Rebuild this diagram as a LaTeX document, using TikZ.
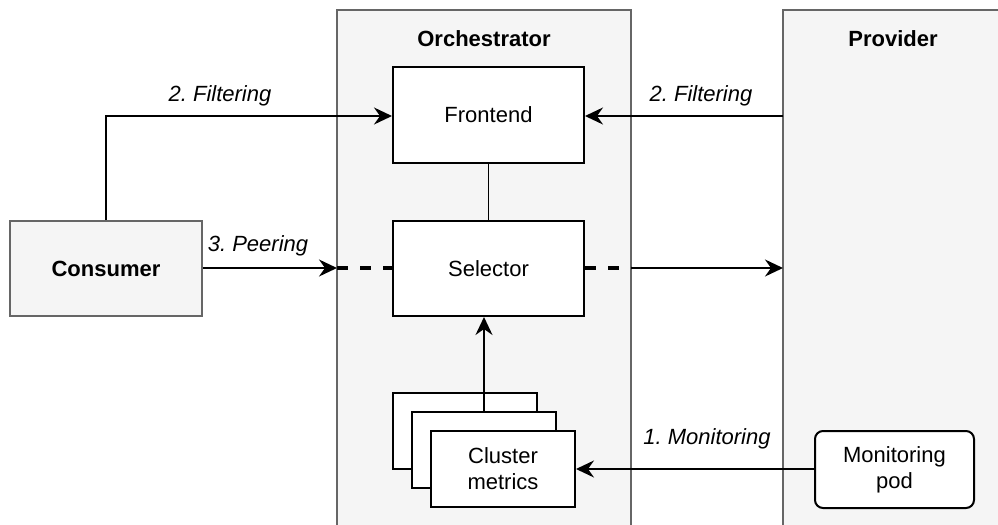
\documentclass[tikz,border=0pt]{standalone}
\usepackage{fontspec}
\setmainfont{Liberation Sans}
\usetikzlibrary{arrows.meta}
\definecolor{panelfill}{HTML}{F5F5F5}
\definecolor{panelline}{HTML}{666666}
\tikzset{
  base/.style={font=\fontsize{11}{13}\selectfont, align=center, inner sep=0pt},
  panel/.style={fill=panelfill, draw=panelline, line width=1pt},
  block/.style={base, draw=black, fill=white, line width=1pt},
  ghost/.style={base, draw=panelline, fill=panelfill, line width=1pt},
  title/.style={base, font=\fontsize{11}{13}\selectfont\bfseries},
  flowlabel/.style={base, font=\fontsize{11}{13}\selectfont\itshape},
  link/.style={line width=0.9pt, draw=black},
  arrowlink/.style={link, -{Stealth[length=9pt,width=8.5pt,inset=3pt]}},
  dashlink/.style={draw=black, line width=2pt, dash pattern=on 5.5pt off 6pt},
}
\begin{document}
\frenchspacing
\begin{tikzpicture}[x=0.5pt, y=-0.5pt]
  \useasboundingbox (0,0) rectangle (998,525);
  \fill[white] (0,0) rectangle (998,525);
  \clip (0,0) rectangle (998,525);

  % containers (they run past the lower edge)
  \fill[panelfill] (337,10) rectangle (631,540);
  \draw[panelline, line width=1pt] (337,540) -- (337,10) -- (631,10) -- (631,540);
  \fill[panelfill] (783,10) rectangle (1010,540);
  \draw[panelline, line width=1pt] (783,540) -- (783,10) -- (1010,10);
  \node[title] (orchtitle) at (484,39) {Orchestrator};
  \node[title] (provtitle) at (893,39) {Provider};

  % boxes
  \node[ghost, title, minimum width=96pt, minimum height=47.5pt] (consumer) at (106,268.5) {Consumer};
  \node[block, minimum width=95.5pt, minimum height=48pt] (frontend) at (488.5,115) {Frontend};
  \node[block, minimum width=95.5pt, minimum height=47.5pt] (selector) at (488.5,268.5) {Selector};
  \node[block, minimum width=72pt, minimum height=38pt] (metricsA) at (465,431) {};
  \node[block, minimum width=72pt, minimum height=38pt] (metricsB) at (484,450) {};
  \node[block, minimum width=72pt, minimum height=38pt] (metricsC) at (503,469) {Cluster\\metrics};
  \node[block, rounded corners=4pt, minimum width=79.5pt, minimum height=38.5pt] (pod) at (894.5,469.5) {Monitoring\\pod};

  % anchor points on the container edges
  \coordinate (orchin) at (337,268);
  \coordinate (orchout) at (631,268);
  \coordinate (provin) at (783,268);
  \coordinate (provfilter) at (783,116);
  \coordinate (bend) at (106,116);

  % connectors
  \draw[arrowlink] (consumer.north) -- (bend) -- (frontend.west |- bend);
  \draw[arrowlink] (provfilter) -- (frontend.east |- provfilter);
  \draw[link] (frontend.south) -- (selector.north);
  \draw[arrowlink] (consumer.east |- orchin) -- (orchin);
  \draw[dashlink] (orchin) -- (selector.west |- orchin);
  \draw[dashlink] (selector.east |- orchout) -- (orchout);
  \draw[arrowlink] (orchout) -- (provin);
  \draw[arrowlink] (metricsB.north) -- (metricsB.north |- selector.south);
  \draw[arrowlink] (pod.west |- metricsC.east) -- (metricsC.east);

  % flow labels
  \node[flowlabel] (lblfilterA) at (220,96) {2. Filtering};
  \node[flowlabel] (lblfilterB) at (701,96) {2. Filtering};
  \node[flowlabel] (lblpeer) at (258,246) {3. Peering};
  \node[flowlabel] (lblmon) at (707,439) {1. Monitoring};
\end{tikzpicture}
\end{document}
